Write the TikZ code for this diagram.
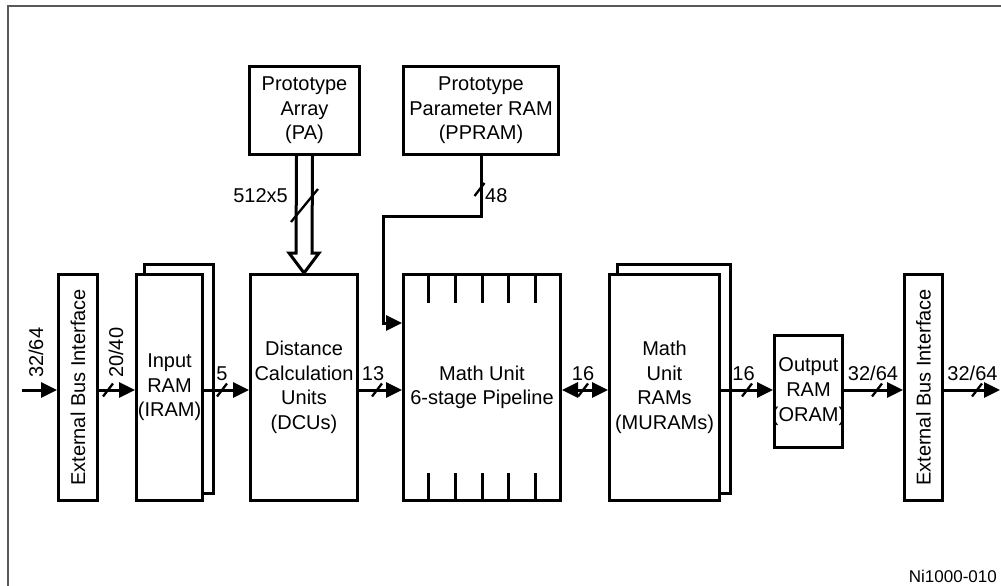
\documentclass[tikz,border=0pt]{standalone}
\usepackage{fontspec}
\setmainfont{Liberation Sans}
\usetikzlibrary{arrows.meta,calc,backgrounds}
\begin{document}
\begin{tikzpicture}[x=1pt,y=-1pt,
  boxline/.style={draw, line width=3pt},
  box/.style={draw, line width=3pt, fill=white, inner sep=0pt, align=center,
    font=\fontsize{20}{24.6}\selectfont},
  arr/.style={line width=3pt, line join=miter, -{Triangle[length=16pt,width=15pt]}},
  arrtwo/.style={line width=3pt, {Triangle[length=16pt,width=15pt]}-{Triangle[length=16pt,width=15pt]}},
  lbl/.style={inner sep=0pt, font=\fontsize{20}{24}\selectfont},
  tick/.style={line width=3pt},
  framel/.style={line width=1.6pt, black!65},
  pics/slashmark/.style={code={\draw[line width=2.3pt] (-5,6.5) -- (5,-6.5);}}]
\useasboundingbox (0,0) rectangle (1001,586);
\begin{scope}[on background layer]
  \fill[white] (0,0) rectangle (1001,586);
\end{scope}
\draw[framel] (8,586) -- (8,6) -- (1001,6);

% blocks
\node[box, minimum width=39pt, minimum height=226pt] (ebi1) at (78,387.5) {\rotatebox{90}{External Bus Interface}};
\node[box, minimum width=66pt, minimum height=226pt] (iram) at (169.5,387.5) {Input\\RAM\\(IRAM)};
\node[box, minimum width=107pt, minimum height=226pt] (dcu) at (304,387.5) {Distance\\Calculation\\Units\\(DCUs)};
\node[box, minimum width=157pt, minimum height=226pt] (mu) at (482,387.5) {Math Unit\\6-stage Pipeline};
\node[box, minimum width=110pt, minimum height=226pt] (muram) at (664.5,387.5) {Math\\Unit\\RAMs\\(MURAMs)};
\node[box, minimum width=68pt, minimum height=112pt] (oram) at (808.5,391.5) {Output\\RAM\\\makebox[0pt][c]{(ORAM)}};
\node[box, minimum width=38pt, minimum height=226pt] (ebi2) at (923.5,387.5) {\rotatebox{90}{External Bus Interface}};
\node[box, minimum width=110pt, minimum height=88pt] (pa) at (304.5,110.5) {Prototype\\Array\\(PA)};
\node[box, minimum width=155pt, minimum height=88pt] (ppram) at (481,110.5) {Prototype\\Parameter RAM\\(PPRAM)};

% stacked back boxes
\begin{scope}[on background layer]
  \draw[boxline] ([xshift=9pt,yshift=9pt]iram.south west) rectangle ([xshift=9pt,yshift=9pt]iram.north east);
  \draw[boxline] ([xshift=9pt,yshift=9pt]muram.south west) rectangle ([xshift=9pt,yshift=9pt]muram.north east);
\end{scope}

% pipeline stage ticks
\foreach \i in {1,...,5} {
  \draw[tick] ($(mu.north west)!{\i/6}!(mu.north east)$) -- ++(0,30);
  \draw[tick] ($(mu.south west)!{\i/6}!(mu.south east)$) -- ++(0,-29);
}

% horizontal data path
\coordinate (ay) at (0,390);
\coordinate (in1) at (22,390);
\coordinate (out1) at (1000,390);
\draw[arr] (in1) -- (ebi1.west |- ay);
\draw[arr] (ebi1.east |- ay) -- (iram.west |- ay);
\draw[arr] (iram.east |- ay) -- (dcu.west |- ay);
\draw[arr] (dcu.east |- ay) -- (mu.west |- ay);
\draw[arrtwo] (mu.east |- ay) -- (muram.west |- ay);
\draw[arr] (muram.east |- ay) -- (oram.west |- ay);
\draw[arr] (oram.east |- ay) -- (ebi2.west |- ay);
\draw[arr] (ebi2.east |- ay) -- (out1);

\pic at (108,390) {slashmark};
\pic at (222,390) {slashmark};
\pic at (377,390) {slashmark};
\pic at (583,390) {slashmark};
\pic at (747,390) {slashmark};
\pic at (877,390) {slashmark};
\pic at (977,390) {slashmark};

% wide bus PA -> DCU (hollow double arrow)
\draw[line width=3pt, line join=miter]
  ([xshift=-8pt]pa.south) -- ([xshift=-8pt,yshift=20pt]dcu.north)
  -- ([xshift=-15pt,yshift=20pt]dcu.north) -- (dcu.north)
  -- ([xshift=15pt,yshift=20pt]dcu.north) -- ([xshift=8pt,yshift=20pt]dcu.north)
  -- ([xshift=8pt]pa.south);
\draw[line width=2.3pt] (291,222) -- (318,189);

% PPRAM -> Math Unit
\coordinate (k1) at (383,216);
\draw[arr] (ppram.south) |- (k1) |- ([yshift=64.5pt]mu.west);
\pic at (479.5,189.5) {slashmark};

% labels
\node[lbl, rotate=90, anchor=base west] (l0) at (43,378) {32/64};
\node[lbl, rotate=90, anchor=base west] (l1) at (123,378) {20/40};
\node[lbl, anchor=base] (l2) at (222,380) {5};
\node[lbl, anchor=base] (l3) at (373,380) {13};
\node[lbl, anchor=base] (l4) at (583,380) {16};
\node[lbl, anchor=base] (l5) at (743.5,380) {16};
\node[lbl, anchor=base] (l6) at (873,380) {32/64};
\node[lbl, anchor=base] (l7) at (972.5,380) {32/64};
\node[lbl, anchor=base east] (l8) at (288,202) {512x5};
\node[lbl, anchor=base west] (l9) at (485,202) {48};
\node[inner sep=0pt, font=\fontsize{17}{20}\selectfont, anchor=base east] (cap) at (997,582) {Ni1000-010};
\end{tikzpicture}
\end{document}
